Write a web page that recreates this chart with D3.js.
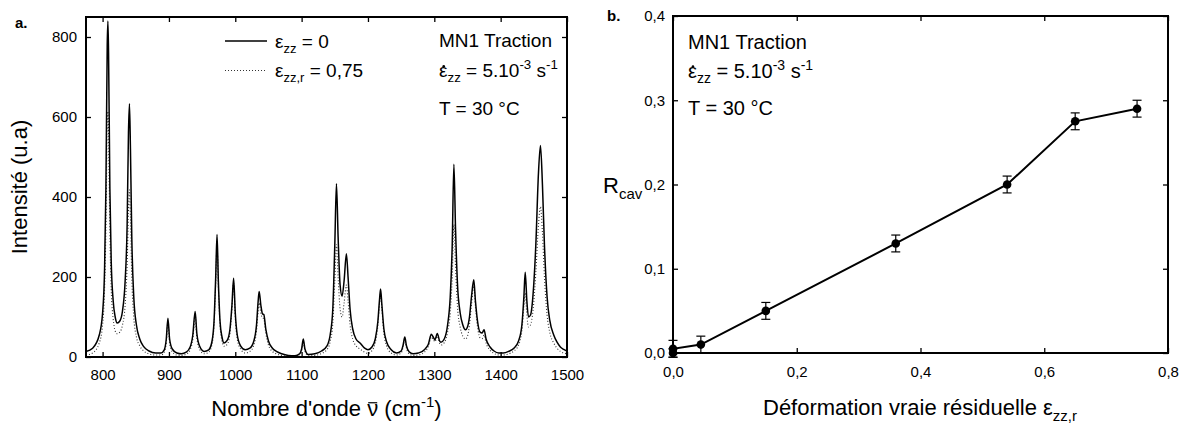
<!DOCTYPE html>
<meta charset="utf-8">
<style>
body { margin: 0; background: #fff; }
svg { font-family: "Liberation Sans", Arial, sans-serif; }
.tick text { font-size: 15px; fill: #000; }
.tick line { stroke: #000; stroke-width: 1.3px; }
.frame { fill: none; stroke: #000; stroke-width: 2px; }
</style>
<svg width="1189" height="426"></svg>
<script src="https://cdnjs.cloudflare.com/ajax/libs/d3/7.8.5/d3.min.js"></script>
<script>

// spectrum, eps_zz = 0 (solid) : [wavenumber, intensity]
var specSolid = [
  [775,14],[785,22],[795,55],[800,110],[803,220],[805,420],[807,780],[808,840],[809,760],[811,420],
  [813,240],[816,140],[819,100],[822,85],[826,90],[830,115],[834,190],[837,330],[839,560],[840.5,633],
  [842,520],[844,300],[847,150],[851,80],[856,45],[862,26],[870,15],[880,10],[888,10],[893,18],
  [896,45],[898.5,97],[901,45],[905,20],[912,10],[919,8],[926,12],[932,25],[936,55],[939.5,114],
  [942,60],[946,28],[953,14],[960,18],[965,40],[968,90],[970.5,200],[972.5,306],[974.5,190],[977,90],
  [980,50],[983,35],[988,42],[992,70],[995,130],[997.5,197],[1000,110],[1003,55],[1008,28],[1015,18],
  [1022,22],[1028,40],[1032,80],[1034.5,140],[1036,164],[1038.5,130],[1041,108],[1043,106],[1046,70],[1050,40],
  [1056,22],[1062,14],[1070,8],[1080,4],[1090,3],[1097,8],[1100,20],[1102.5,45],[1105,20],[1110,6],
  [1120,8],[1130,15],[1138,27],[1143,55],[1147,120],[1150,280],[1152.5,433],[1155,300],[1158,180],[1161,152],
  [1164,190],[1167.5,258],[1170,200],[1173,120],[1177,70],[1182,45],[1188,35],[1195,22],[1200,18],[1206,25],
  [1211,45],[1215,90],[1217.5,145],[1219,170],[1221,130],[1224,70],[1228,38],[1235,18],[1243,10],[1250,15],
  [1253,30],[1255.5,50],[1258,28],[1262,13],[1268,8],[1276,10],[1285,18],[1291,32],[1295.5,57],[1299,48],
  [1301,43],[1304.5,59],[1308,40],[1310,37],[1315,45],[1320,80],[1324,150],[1327,280],[1329.5,482],[1332,320],
  [1335,180],[1339,110],[1343,80],[1347,68],[1350,75],[1353,100],[1356,150],[1359.5,193],[1362,140],[1366,80],
  [1369,62],[1372,60],[1375,68],[1378,45],[1384,25],[1390,15],[1397,10],[1404,10],[1412,14],[1420,22],
  [1427,40],[1432,80],[1435,150],[1437,212],[1439.5,140],[1442,100],[1445,105],[1449,160],[1453,280],[1457,460],
  [1460,529],[1463,430],[1466,280],[1470,150],[1474,92],[1480,55],[1485,37],[1490,25],[1495,19],[1500,15]
];

// spectrum, eps_zz,r = 0,75 (dotted)
var specDotted = [
  [775,5],[785,10],[795,35],[800,80],[803,170],[805,320],[807,580],[808,614],[809,560],[811,310],
  [813,170],[816,95],[819,65],[822,58],[826,62],[830,80],[834,130],[837,230],[839,360],[840.5,418],
  [842,350],[844,200],[847,100],[851,50],[856,28],[862,15],[870,8],[880,5],[888,5],[893,12],
  [896,35],[898.5,88],[901,35],[905,13],[912,5],[919,4],[926,7],[932,18],[936,45],[939.5,105],
  [942,50],[946,20],[953,8],[960,12],[965,32],[968,80],[970.5,185],[972.5,285],[974.5,175],[977,80],
  [980,40],[983,27],[988,32],[992,60],[995,120],[997.5,185],[1000,100],[1003,45],[1008,20],[1015,10],
  [1022,14],[1028,30],[1032,65],[1034.5,115],[1036,135],[1038.5,110],[1041,98],[1043,96],[1046,60],[1050,30],
  [1056,14],[1062,8],[1070,4],[1080,2],[1090,2],[1097,6],[1100,16],[1102.5,38],[1105,15],[1110,3],
  [1120,4],[1130,9],[1138,18],[1143,38],[1147,85],[1150,190],[1152.5,281],[1155,200],[1158,120],[1161,100],
  [1164,135],[1167.5,180],[1170,140],[1173,80],[1177,45],[1182,28],[1188,20],[1195,12],[1200,9],[1206,16],
  [1211,36],[1215,80],[1217.5,135],[1219,158],[1221,120],[1224,60],[1228,28],[1235,10],[1243,5],[1250,10],
  [1253,25],[1255.5,44],[1258,22],[1262,8],[1268,4],[1276,5],[1285,12],[1291,26],[1295.5,50],[1299,42],
  [1301,38],[1304.5,52],[1308,34],[1310,30],[1315,36],[1320,62],[1324,110],[1327,200],[1329.5,331],[1332,225],
  [1335,125],[1339,75],[1343,52],[1347,45],[1350,52],[1353,80],[1356,130],[1359.5,178],[1362,125],[1366,66],
  [1369,48],[1372,46],[1375,55],[1378,35],[1384,17],[1390,9],[1397,5],[1404,5],[1412,8],[1420,15],
  [1427,30],[1432,65],[1435,125],[1437,160],[1439.5,105],[1442,75],[1445,80],[1449,120],[1453,210],[1457,330],
  [1460,376],[1463,310],[1466,200],[1470,105],[1474,62],[1480,35],[1485,22],[1490,14],[1495,10],[1500,8]
];

var waveTicks = [800, 900, 1000, 1100, 1200, 1300, 1400, 1500];
var intensTicks = [0, 200, 400, 600, 800];

// panel b
var strainRes = [0, 0, 0.045, 0.15, 0.36, 0.54, 0.65, 0.75];
var rcav = [0.0, 0.005, 0.01, 0.05, 0.13, 0.20, 0.275, 0.29];
var rcavErr = [0.005, 0.01, 0.01, 0.01, 0.01, 0.01, 0.01, 0.01];
var strainTicks = [0, 0.2, 0.4, 0.6, 0.8];
var rcavTicks = [0, 0.1, 0.2, 0.3, 0.4];

var svg = d3.select("svg");
var comma = function(d) { return d3.format(".1f")(d).replace(".", ","); };

function frameAxes(g, x, y, xt, yt, xfmt, yfmt, padX, padY) {
  var x0 = x.range()[0], x1 = x.range()[1], y0 = y.range()[0], y1 = y.range()[1];
  g.append("g").attr("transform", "translate(0," + y0 + ")")
    .call(d3.axisBottom(x).tickValues(xt).tickFormat(xfmt).tickSizeInner(-5).tickSizeOuter(0).tickPadding(padX))
    .call(function(a) { a.select(".domain").remove(); });
  g.append("g").attr("transform", "translate(0," + y1 + ")")
    .call(d3.axisTop(x).tickValues(xt).tickFormat("").tickSizeInner(-5).tickSizeOuter(0))
    .call(function(a) { a.select(".domain").remove(); });
  g.append("g").attr("transform", "translate(" + x0 + ",0)")
    .call(d3.axisLeft(y).tickValues(yt).tickFormat(yfmt).tickSizeInner(-5).tickSizeOuter(0).tickPadding(padY))
    .call(function(a) { a.select(".domain").remove(); });
  g.append("g").attr("transform", "translate(" + x1 + ",0)")
    .call(d3.axisRight(y).tickValues(yt).tickFormat("").tickSizeInner(-5).tickSizeOuter(0))
    .call(function(a) { a.select(".domain").remove(); });
  g.selectAll(".tick text").attr("font-family", null).attr("font-size", null);
  g.append("rect").attr("class", "frame")
    .attr("x", x0).attr("y", y1).attr("width", x1 - x0).attr("height", y0 - y1);
}

// put a dot or a bar above character i of a text node
function accent(g, textSel, i, kind) {
  var b = textSel.node().getExtentOfChar(i);
  var cx = b.x + b.width / 2;
  if (kind == "dot") {
    g.append("circle").attr("cx", cx + 0.5).attr("cy", b.y + b.height * 0.3).attr("r", 1.3).attr("fill", "#000");
  } else {
    g.append("line").attr("x1", cx - 4.5).attr("x2", cx + 4.5)
      .attr("y1", b.y + b.height * 0.27).attr("y2", b.y + b.height * 0.27)
      .attr("stroke", "#000").attr("stroke-width", 1.2);
  }
}

// ---------- panel a ----------
var xa = d3.scaleLinear().domain([775, 1500]).range([86, 567]),
    ya = d3.scaleLinear().domain([0, 850]).range([357, 17]);
var ga = svg.append("g");

var lineA = d3.line().curve(d3.curveMonotoneX)
    .x(function(d) { return xa(d[0]); })
    .y(function(d) { return ya(d[1]); });

ga.append("path").datum(specDotted).attr("d", lineA)
  .attr("fill", "none").attr("stroke", "#333").attr("stroke-width", 1.1).attr("stroke-dasharray", "1,2");
ga.append("path").datum(specSolid).attr("d", lineA)
  .attr("fill", "none").attr("stroke", "#000").attr("stroke-width", 1.5);

frameAxes(ga, xa, ya, waveTicks, intensTicks, d3.format("d"), d3.format("d"), 12, 9);

ga.append("text").attr("x", 15).attr("y", 28).attr("font-size", 15).attr("font-weight", "bold").text("a.");

// legend
ga.append("line").attr("x1", 225).attr("x2", 267).attr("y1", 41).attr("y2", 41)
  .attr("stroke", "#000").attr("stroke-width", 1.5);
ga.append("line").attr("x1", 225).attr("x2", 267).attr("y1", 70.5).attr("y2", 70.5)
  .attr("stroke", "#333").attr("stroke-width", 1.1).attr("stroke-dasharray", "1,2");
var l1 = ga.append("text").attr("x", 275).attr("y", 48).attr("font-size", 19);
l1.append("tspan").text("ε");
l1.append("tspan").attr("font-size", 13).attr("dy", 5).text("zz");
l1.append("tspan").attr("dy", -5).text(" = 0");
var l2 = ga.append("text").attr("x", 275).attr("y", 77).attr("font-size", 19);
l2.append("tspan").text("ε");
l2.append("tspan").attr("font-size", 13).attr("dy", 5).text("zz,r");
l2.append("tspan").attr("dy", -5).text(" = 0,75");

function conditions(g, x, ys, fs) {
  g.append("text").attr("x", x).attr("y", ys[0]).attr("font-size", fs).text("MN1 Traction");
  var t = g.append("text").attr("x", x).attr("y", ys[1]).attr("font-size", fs);
  t.append("tspan").text("ε");
  t.append("tspan").attr("font-size", fs * 0.7).attr("dy", 5).text("zz");
  t.append("tspan").attr("dy", -5).text(" = 5.10");
  t.append("tspan").attr("font-size", fs * 0.7).attr("dy", -8).text("-3");
  t.append("tspan").attr("dy", 8).text(" s");
  t.append("tspan").attr("font-size", fs * 0.7).attr("dy", -8).text("-1");
  accent(g, t, 0, "dot");
  g.append("text").attr("x", x).attr("y", ys[2]).attr("font-size", fs).text("T = 30 °C");
}
conditions(ga, 439, [47, 77, 115], 19);

// axis titles
var xt = ga.append("text").attr("x", 326.5).attr("y", 416).attr("text-anchor", "middle").attr("font-size", 22);
xt.append("tspan").text("Nombre d'onde ν (cm");
xt.append("tspan").attr("font-size", 15).attr("dy", -9).text("-1");
xt.append("tspan").attr("dy", 9).text(")");
accent(ga, xt, 14, "bar");
ga.append("text").attr("transform", "translate(27,187) rotate(-90)").attr("text-anchor", "middle")
  .attr("font-size", 22).text("Intensité (u.a)");

// ---------- panel b ----------
var xb = d3.scaleLinear().domain([0, 0.8]).range([673, 1168]),
    yb = d3.scaleLinear().domain([0, 0.4]).range([353, 16]);
var gb = svg.append("g");
var pts = strainRes.map(function(s, i) { return {x: s, y: rcav[i], e: rcavErr[i]}; });

frameAxes(gb, xb, yb, strainTicks, rcavTicks, comma, comma, 13, 8);

gb.append("path").datum(pts)
  .attr("d", d3.line().x(function(d) { return xb(d.x); }).y(function(d) { return yb(d.y); }))
  .attr("fill", "none").attr("stroke", "#000").attr("stroke-width", 2);
var eb = gb.selectAll(".err").data(pts).enter().append("g").attr("stroke", "#000").attr("stroke-width", 1.2);
eb.append("line").attr("x1", function(d) { return xb(d.x); }).attr("x2", function(d) { return xb(d.x); })
  .attr("y1", function(d) { return yb(d.y - d.e); }).attr("y2", function(d) { return yb(d.y + d.e); });
eb.append("line").attr("x1", function(d) { return xb(d.x) - 4.5; }).attr("x2", function(d) { return xb(d.x) + 4.5; })
  .attr("y1", function(d) { return yb(d.y + d.e); }).attr("y2", function(d) { return yb(d.y + d.e); });
eb.append("line").attr("x1", function(d) { return xb(d.x) - 4.5; }).attr("x2", function(d) { return xb(d.x) + 4.5; })
  .attr("y1", function(d) { return yb(d.y - d.e); }).attr("y2", function(d) { return yb(d.y - d.e); });
gb.selectAll(".pt").data(pts).enter().append("circle")
  .attr("cx", function(d) { return xb(d.x); }).attr("cy", function(d) { return yb(d.y); })
  .attr("r", 4.3).attr("fill", "#000");

gb.append("text").attr("x", 607).attr("y", 21).attr("font-size", 15).attr("font-weight", "bold").text("b.");
conditions(gb, 688, [49, 78, 115], 20);

var xtb = gb.append("text").attr("x", 920).attr("y", 415).attr("text-anchor", "middle").attr("font-size", 22);
xtb.append("tspan").text("Déformation vraie résiduelle ε");
xtb.append("tspan").attr("font-size", 15).attr("dy", 6).text("zz,r");
var rl = gb.append("text").attr("x", 603).attr("y", 193).attr("font-size", 22);
rl.append("tspan").text("R");
rl.append("tspan").attr("font-size", 15).attr("dy", 6).text("cav");
</script>
